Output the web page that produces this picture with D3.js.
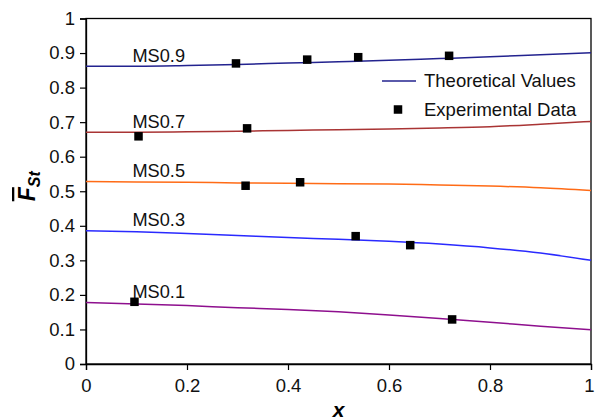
<!DOCTYPE html>
<html>
<head>
<meta charset="utf-8">
<script src="https://cdn.jsdelivr.net/npm/d3@7"></script>
<style>
  html, body { margin: 0; padding: 0; background: #fff; }
  svg { display: block; font-family: Arial, "Liberation Sans", sans-serif; }
</style>
</head>
<body>
<svg id="chart" width="595" height="419"></svg>
<script>
// Mole fraction x at which the theoretical curves are sampled
const xGrid = [0, 0.1, 0.2, 0.3, 0.4, 0.5, 0.6, 0.7, 0.8, 0.9, 1.0];

// Theoretical mean F_St for each series
const ms09 = [0.862, 0.862, 0.864, 0.867, 0.871, 0.875, 0.879, 0.884, 0.889, 0.895, 0.901];
const ms07 = [0.671, 0.671, 0.672, 0.674, 0.676, 0.678, 0.680, 0.683, 0.687, 0.694, 0.702];
const ms05 = [0.528, 0.527, 0.526, 0.524, 0.523, 0.522, 0.521, 0.518, 0.515, 0.510, 0.502];
const ms03 = [0.386, 0.383, 0.378, 0.372, 0.366, 0.361, 0.355, 0.347, 0.336, 0.321, 0.300];
const ms01 = [0.178, 0.174, 0.169, 0.163, 0.158, 0.151, 0.142, 0.132, 0.121, 0.109, 0.099];

// Experimental points [x, F_St]
const exp09 = [[0.297, 0.870], [0.438, 0.881], [0.539, 0.888], [0.719, 0.892]];
const exp07 = [[0.104, 0.659], [0.319, 0.682]];
const exp05 = [[0.316, 0.516], [0.424, 0.526]];
const exp03 = [[0.534, 0.370], [0.642, 0.344]];
const exp01 = [[0.096, 0.180], [0.725, 0.129]];

const seriesNames = ["MS0.9", "MS0.7", "MS0.5", "MS0.3", "MS0.1"];
const seriesColors = ["#23238f", "#a93434", "#ff6b16", "#2a2aff", "#8e0f8e"];
const seriesValues = [ms09, ms07, ms05, ms03, ms01];
const seriesExp = [exp09, exp07, exp05, exp03, exp01];

const xTicks = [0, 0.2, 0.4, 0.6, 0.8, 1];
const yTicks = [0, 0.1, 0.2, 0.3, 0.4, 0.5, 0.6, 0.7, 0.8, 0.9, 1];

const legendLabels = ["Theoretical Values", "Experimental Data"];

const W = 595, H = 419;
const margin = { top: 18.5, right: 4, bottom: 55, left: 86 };

const svg = d3.select("#chart");
const x = d3.scaleLinear().domain([0, 1]).range([margin.left, W - margin.right]);
const y = d3.scaleLinear().domain([0, 1]).range([H - margin.bottom, margin.top]);

const fmt = d => (d === 0 || d === 1) ? d3.format("d")(d) : d3.format(".1f")(d);

// Plot frame
svg.append("rect")
  .attr("x", x(0)).attr("y", y(1))
  .attr("width", x(1) - x(0)).attr("height", y(0) - y(1))
  .attr("fill", "none").attr("stroke", "#000").attr("stroke-width", 1.3);

// Axes
const xAxis = svg.append("g")
  .attr("transform", `translate(0,${y(0)})`)
  .call(d3.axisBottom(x).tickValues(xTicks).tickSize(6).tickPadding(9).tickFormat(fmt));
const yAxis = svg.append("g")
  .attr("transform", `translate(${x(0)},0)`)
  .call(d3.axisLeft(y).tickValues(yTicks).tickSize(6).tickPadding(5).tickFormat(fmt));

[xAxis, yAxis].forEach(g => {
  g.select(".domain").attr("stroke", "#000").attr("stroke-width", 1.3);
  g.selectAll(".tick line").attr("stroke", "#000").attr("stroke-width", 1.2);
  g.selectAll(".tick text")
    .attr("fill", "#111")
    .style("font-size", "18.5px")
    .style("font-family", "Arial, 'Liberation Sans', sans-serif");
});

// Keep the last x tick label inside the page edge
xAxis.selectAll(".tick text")
  .filter(d => d === 1)
  .attr("text-anchor", "end")
  .attr("x", W - 1 - x(1));

// Theoretical curves
const line = d3.line()
  .x((d, i) => x(xGrid[i]))
  .y(d => y(d))
  .curve(d3.curveMonotoneX);

seriesValues.forEach((vals, k) => {
  svg.append("path")
    .datum(vals)
    .attr("d", line)
    .attr("fill", "none")
    .attr("stroke", seriesColors[k])
    .attr("stroke-width", 1.5);
});

// Series labels, placed just above each curve near x = 0.09
seriesValues.forEach((vals, k) => {
  svg.append("text")
    .attr("x", x(0.092))
    .attr("y", y(vals[0]) - 4.5)
    .attr("fill", "#111")
    .style("font-size", "18.2px")
    .text(seriesNames[k]);
});

// Experimental points
const sq = 8.5;
seriesExp.forEach(pts => {
  svg.selectAll(null)
    .data(pts)
    .enter().append("rect")
    .attr("x", d => x(d[0]) - sq / 2)
    .attr("y", d => y(d[1]) - sq / 2)
    .attr("width", sq).attr("height", sq)
    .attr("fill", "#000");
});

// Legend
const lg = svg.append("g");
lg.append("line")
  .attr("x1", 382).attr("x2", 416)
  .attr("y1", 81).attr("y2", 81)
  .attr("stroke", seriesColors[0]).attr("stroke-width", 1.5);
lg.append("text")
  .attr("x", 424).attr("y", 87)
  .attr("fill", "#111").style("font-size", "18.5px")
  .text(legendLabels[0]);
lg.append("rect")
  .attr("x", 398 - sq / 2).attr("y", 109.5 - sq / 2)
  .attr("width", sq).attr("height", sq).attr("fill", "#000");
lg.append("text")
  .attr("x", 424).attr("y", 115.5)
  .attr("fill", "#111").style("font-size", "18.5px")
  .text(legendLabels[1]);

// Axis titles
svg.append("text")
  .attr("x", (x(0) + x(1)) / 2)
  .attr("y", 416.5)
  .attr("text-anchor", "middle")
  .style("font-size", "21px")
  .style("font-weight", "bold")
  .style("font-style", "italic")
  .text("x");

const yt = svg.append("text")
  .attr("transform", `translate(35,${(y(0) + y(1)) / 2 - 5}) rotate(-90)`)
  .attr("text-anchor", "middle")
  .style("font-size", "23px")
  .style("font-weight", "bold")
  .style("font-style", "italic");
yt.append("tspan").style("text-decoration", "overline").text("F");
yt.append("tspan").attr("dy", 5).style("font-size", "16px").text("St");
</script>
</body>
</html>
